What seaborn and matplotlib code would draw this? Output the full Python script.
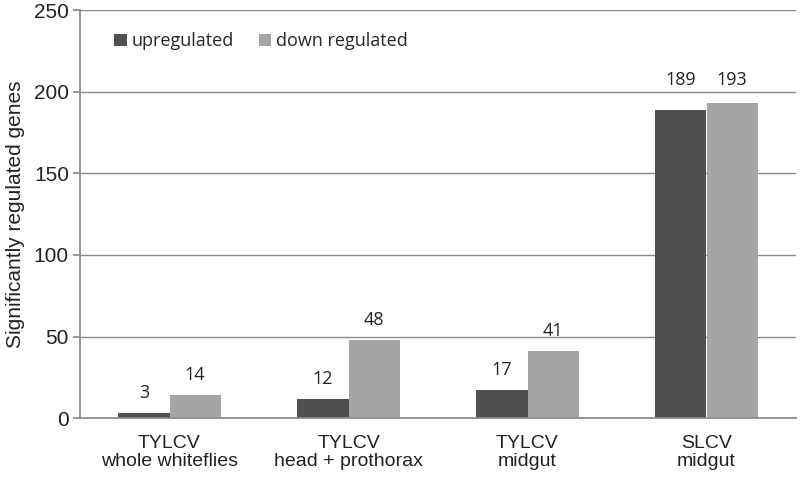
import pandas as pd
import numpy as np
import matplotlib
matplotlib.use('Agg')
import matplotlib.pyplot as plt
import seaborn as sns

# values
categories = ['TYLCV\nwhole whiteflies', 'TYLCV\nhead + prothorax', 'TYLCV\nmidgut', 'SLCV\nmidgut']
upregulated = [3, 12, 17, 189]
down_regulated = [14, 48, 41, 193]
series_names = ['upregulated', 'down regulated']
colors = ['#505050', '#a5a5a5']

df = pd.DataFrame({
    'category': categories * 2,
    'genes': upregulated + down_regulated,
    'series': [series_names[0]] * 4 + [series_names[1]] * 4,
})

sns.set_theme(style='white')
narrow = ['Liberation Sans Narrow', 'Liberation Sans', 'DejaVu Sans']
plt.rcParams['font.family'] = narrow
soft = ['Open Sans', 'DejaVu Sans']

fig = plt.figure(figsize=(8, 4.78), dpi=100)
ax = fig.add_axes([0.1, 0.125, 0.895, 0.854])

sns.barplot(data=df, x='category', y='genes', hue='series', palette=colors,
            width=0.57, ax=ax, saturation=1, linewidth=0, legend=True)

for i, cont in enumerate(ax.containers):
    anns = ax.bar_label(cont, padding=8, fontsize=13, color='#222222', family=soft)
    # the SLCV labels sit level with each other above the bars
    anns[-1].xyann = (0, 15 if i == 0 else 10)

ax.set_ylim(0, 250)
ax.set_yticks(range(0, 251, 50))
ax.set_xlim(-0.5, 3.5)
ax.yaxis.grid(True, color='#8a8a8a', linewidth=1)
ax.set_axisbelow(True)
for s in ['top', 'right']:
    ax.spines[s].set_visible(False)
ax.spines['left'].set_color('#8a8a8a')
ax.spines['bottom'].set_color('#8a8a8a')
ax.tick_params(axis='y', left=True, length=5, colors='#8a8a8a', labelcolor='#222222', labelsize=15, pad=3)
ax.tick_params(axis='x', bottom=False, labelsize=14, labelcolor='#222222', pad=6)
for t in ax.get_xticklabels():
    t.set_linespacing(1.05)
ax.set_xlabel('')
ax.set_ylabel('Significantly regulated genes', fontsize=15, color='#222222', labelpad=6)

leg = ax.legend(loc='upper left', bbox_to_anchor=(0.025, 0.985), ncol=2, frameon=False,
                handlelength=0.7, handleheight=0.7, handletextpad=0.25, columnspacing=1.4,
                prop={'family': soft, 'size': 13})

fig.savefig('out.png', dpi=100)
